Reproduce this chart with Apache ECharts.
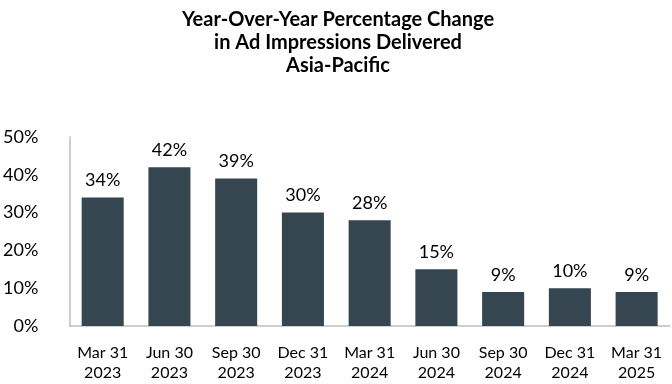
<!DOCTYPE html>
<html><head><meta charset="utf-8">
<script src="https://cdn.jsdelivr.net/npm/echarts@6/dist/echarts.min.js"></script>
<style>html,body{margin:0;padding:0;background:#fff}#c{width:672px;height:384px}</style>
</head><body><div id="c"></div>
<script>
const categories = ['Mar 31\n2023','Jun 30\n2023','Sep 30\n2023','Dec 31\n2023','Mar 31\n2024','Jun 30\n2024','Sep 30\n2024','Dec 31\n2024','Mar 31\n2025'];
const values = [34, 42, 39, 30, 28, 15, 9, 10, 9];
const yTicks = [0, 10, 20, 30, 40, 50];
const titleText = 'Year-Over-Year Percentage Change\nin Ad Impressions Delivered\nAsia-Pacific';
const FONT = 'Lato';
const chart = echarts.init(document.getElementById('c'));
chart.setOption({
  animation: false,
  title: {
    text: titleText, left: 333, top: 3, textAlign: 'center',
    textStyle: {fontFamily: FONT, fontWeight: 'bold', fontSize: 20, lineHeight: 23, color: '#000'}
  },
  grid: {left: 69, right: 2, top: 137, bottom: 58, containLabel: false},
  xAxis: {
    type: 'category', data: categories,
    axisLine: {lineStyle: {color: '#bfbfbf', width: 1.5}},
    axisTick: {show: false},
    axisLabel: {fontFamily: FONT, fontSize: 16, color: '#000', lineHeight: 20, margin: 17, interval: 0}
  },
  yAxis: {
    type: 'value', min: yTicks[0], max: yTicks[yTicks.length-1], interval: 10,
    axisLine: {show: true, lineStyle: {color: '#bfbfbf', width: 1.5}},
    axisTick: {show: false},
    splitLine: {show: false},
    axisLabel: {fontFamily: FONT, fontSize: 18, color: '#000', margin: 31, formatter: v => v + '%'}
  },
  series: [{
    type: 'bar', data: values, barWidth: '63%',
    itemStyle: {color: '#354651'},
    label: {show: true, position: 'top', distance: 8, fontFamily: FONT, fontSize: 18, color: '#000', formatter: p => p.value + '%'}
  }]
});
</script></body></html>
